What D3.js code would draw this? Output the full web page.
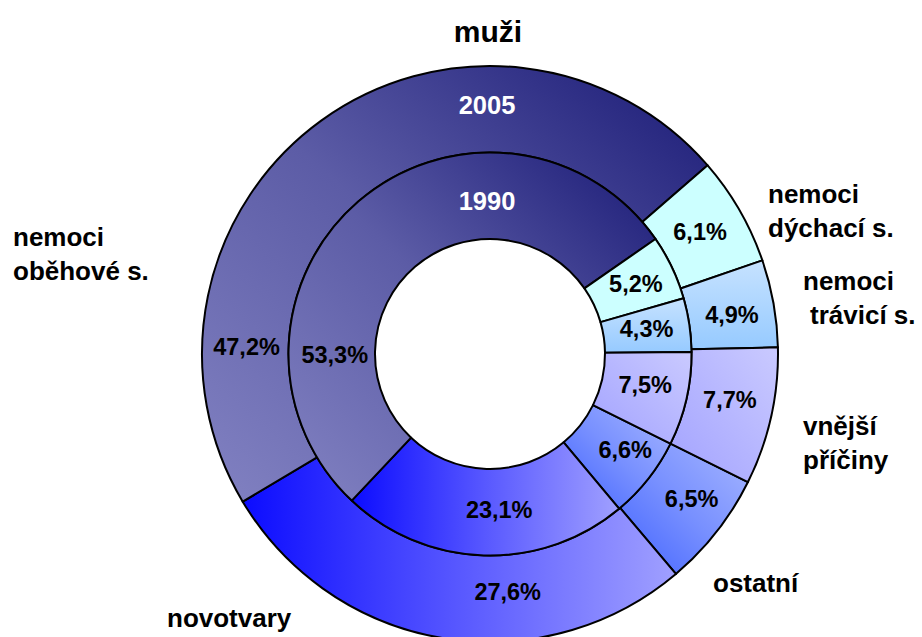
<!DOCTYPE html>
<html>
<head>
<meta charset="utf-8">
<script src="https://cdn.jsdelivr.net/npm/d3@7"></script>
<style>
  html, body { margin: 0; padding: 0; background: #fff; }
  svg { display: block; font-family: "Liberation Sans", Arial, sans-serif; }
  .cat-label { font-size: 26px; font-weight: bold; fill: #000; }
  .pct-label { font-size: 23.5px; font-weight: bold; fill: #000; }
  .year-label { font-size: 25.5px; font-weight: bold; fill: #fff; }
  .title { font-size: 30px; font-weight: bold; fill: #000; }
</style>
</head>
<body>
<div id="chart"></div>
<script>
// data, in the order the slices run clockwise from the shared start angle
const categories = [
  ['ostatní'],
  ['novotvary'],
  ['nemoci', 'oběhové s.'],
  ['nemoci', 'dýchací s.'],
  ['nemoci', 'trávicí s.'],
  ['vnější', 'příčiny'],
];
const years = ['2005', '1990'];
const values2005 = [6.5, 27.6, 47.2, 6.1, 4.9, 7.7];
const values1990 = [6.6, 23.1, 53.3, 5.2, 4.3, 7.5];

// manual label placement (as in the original, labels were moved by hand)
const nudge2005 = [[9, -6], [58, -4], [-100, 191], [-2, 0], [1, 4], [1, -8]];
const nudge1990 = [[11, -2], [14, -3], [-52, 120], [3, -2], [0, -3], [1, -5]];
const catLabelPos = [[713, 592], [167, 627], [13, 246], [768, 203], [803, 290], [803, 435]];
const catSecondLineDx = [0, 0, 0, 0, 7, 0];

// fills: [x1, y1, x2, y2, colour from, colour middle, colour to]
const fills = [
  [0, 1, 1, 0, '#4062ff', '#7890ff', '#a6b6ff'],
  [0, 0, 1, 0, '#0c0cff', '#5858ff', '#a0a0ff'],
  [0, 1, 1, 0, '#8282c2', '#5c5ca6', '#1a1a76'],
  [0, 0, 0, 1, '#ccffff', '#ccffff', '#ccffff'],
  [0, 0, 0, 1, '#c6e2ff', '#aed6ff', '#96caff'],
  [0, 1, 1, 0, '#a2a2ff', '#b6b6ff', '#cacaff'],
];

const W = 922, H = 637;
const cx = 490, cy = 354;
const rHole = 115, rMid = 201.5, rOut = 288;
const startAngle = 116.4 * Math.PI / 180;

const svg = d3.select('#chart').append('svg')
  .attr('width', W)
  .attr('height', H);

const defs = svg.append('defs');
fills.forEach((f, i) => {
  const g = defs.append('linearGradient')
    .attr('id', 'fill' + i)
    .attr('x1', f[0]).attr('y1', f[1])
    .attr('x2', f[2]).attr('y2', f[3]);
  g.append('stop').attr('offset', '0%').attr('stop-color', f[4]);
  g.append('stop').attr('offset', '50%').attr('stop-color', f[5]);
  g.append('stop').attr('offset', '100%').attr('stop-color', f[6]);
});

const locale = d3.formatLocale({ decimal: ',', thousands: ' ', grouping: [3], currency: ['', ''] });
const fmt = v => locale.format('.1f')(v) + '%';

const pie = d3.pie()
  .sort(null)
  .value(d => d)
  .startAngle(startAngle)
  .endAngle(startAngle + 2 * Math.PI);

const rings = [
  { year: years[0], values: values2005, inner: rMid, outer: rOut, nudge: nudge2005, yearDy: -4 },
  { year: years[1], values: values1990, inner: rHole, outer: rMid, nudge: nudge1990, yearDy: 5 },
];

const g = svg.append('g').attr('transform', `translate(${cx},${cy})`);

rings.forEach(ring => {
  const arc = d3.arc().innerRadius(ring.inner).outerRadius(ring.outer);
  const arcs = pie(ring.values);

  g.append('g')
    .selectAll('path')
    .data(arcs)
    .join('path')
    .attr('d', arc)
    .attr('fill', (d, i) => `url(#fill${i})`)
    .attr('stroke', '#000')
    .attr('stroke-width', 2)
    .attr('stroke-linejoin', 'round');

  g.append('g')
    .selectAll('text')
    .data(arcs)
    .join('text')
    .attr('class', 'pct-label')
    .attr('text-anchor', 'middle')
    .attr('x', (d, i) => arc.centroid(d)[0] + ring.nudge[i][0])
    .attr('y', (d, i) => arc.centroid(d)[1] + ring.nudge[i][1])
    .attr('dy', '0.36em')
    .text(d => fmt(d.data));

  // series name sits at the top of its ring
  g.append('text')
    .attr('class', 'year-label')
    .attr('text-anchor', 'middle')
    .attr('x', -3)
    .attr('y', -(ring.inner + ring.outer) / 2 + ring.yearDy)
    .attr('dy', '0.36em')
    .text(ring.year);
});

// category labels
const cat = svg.append('g')
  .selectAll('text')
  .data(categories)
  .join('text')
  .attr('class', 'cat-label')
  .attr('x', (d, i) => catLabelPos[i][0])
  .attr('y', (d, i) => catLabelPos[i][1]);

cat.selectAll('tspan')
  .data((d, i) => d.map((line, j) => ({ line, j, i })))
  .join('tspan')
  .attr('x', d => catLabelPos[d.i][0] + (d.j ? catSecondLineDx[d.i] : 0))
  .attr('dy', d => (d.j ? 34 : 0))
  .text(d => d.line);

svg.append('text')
  .attr('class', 'title')
  .attr('text-anchor', 'middle')
  .attr('x', 488)
  .attr('y', 42)
  .text('muži');
</script>
</body>
</html>
